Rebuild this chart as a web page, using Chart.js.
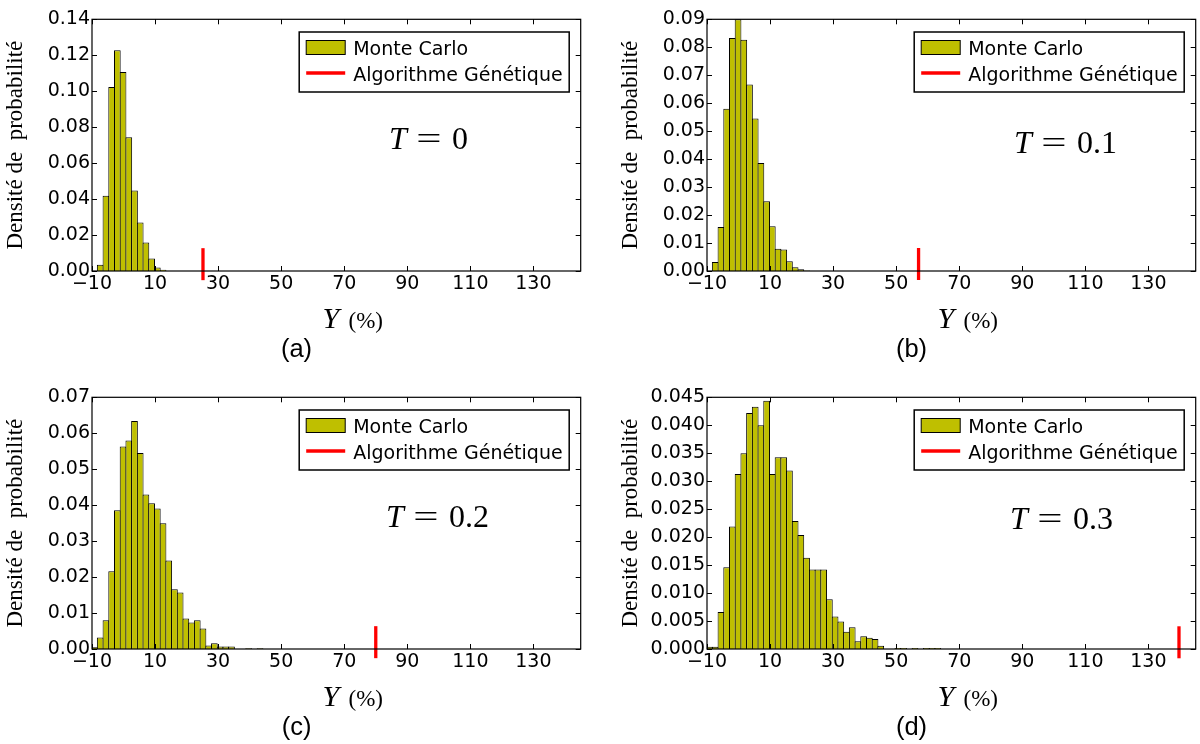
<!DOCTYPE html>
<html>
<head>
<meta charset="utf-8">
<script src="https://cdn.jsdelivr.net/npm/chart.js@4"></script>
<style>
  html, body { margin: 0; padding: 0; background: #fff; width: 1200px; height: 744px; overflow: hidden; position: relative; }
  canvas { position: absolute; }
</style>
</head>
<body>
<canvas id="chartA" width="600" height="366" style="left:0;top:0"></canvas>
<canvas id="chartB" width="600" height="366" style="left:615px;top:0"></canvas>
<canvas id="chartC" width="600" height="366" style="left:0;top:378px"></canvas>
<canvas id="chartD" width="600" height="366" style="left:615px;top:378px"></canvas>
<script>
// histogram bin centres (bin width 1.81)
const binCenters = [-9.2, -7.39, -5.58, -3.77, -1.96, -0.15, 1.67, 3.48, 5.29, 7.1,
  8.91, 10.72, 12.53, 14.34, 16.15, 17.96, 19.77, 21.58, 23.39, 25.2,
  27.01, 28.82, 30.63, 32.44, 34.25, 36.06, 37.87, 39.68, 41.49, 43.3,
  45.11, 46.92, 48.73, 50.54, 52.35, 54.16, 55.97, 57.78, 59.59, 61.4, 63.21];

// Monte Carlo densities, one list per panel
const densityA = [0, 0.0035, 0.0419, 0.1024, 0.1228, 0.1107, 0.0744, 0.0448, 0.027, 0.0159, 0.0069, 0.002, 0.0007];
const densityB = [0, 0.0032, 0.0157, 0.058, 0.0833, 0.09, 0.0827, 0.0667, 0.0545, 0.0386, 0.0249,
  0.016, 0.008, 0.0077, 0.0035, 0.0013, 0.0006, 0.0002];
const densityC = [0.0005, 0.0032, 0.008, 0.0216, 0.0386, 0.0563, 0.058, 0.0634, 0.0545, 0.043,
  0.0405, 0.0391, 0.035, 0.0246, 0.0166, 0.0157, 0.0085, 0.0074, 0.008, 0.0057,
  0.001, 0.0016, 0.0007, 0.0007, 0.0007, 0, 0, 0.0002, 0, 0.0002];
const densityD = [0.0004, 0.0004, 0.0066, 0.0146, 0.0219, 0.0313, 0.035, 0.0422, 0.0433, 0.04,
  0.0444, 0.0313, 0.0343, 0.0343, 0.0319, 0.0229, 0.0204, 0.0163, 0.0142, 0.0142,
  0.0142, 0.0089, 0.0058, 0.0049, 0.0031, 0.0039, 0.0014, 0.0023, 0.002, 0.0018,
  0.0006, 0, 0, 0.0002, 0.0002, 0, 0.0002, 0, 0.0002, 0.0002, 0.0002];

// genetic algorithm result (x) and marker centre (y)
const gaX = [25.2, 57.1, 80, 139.7];
const gaY = [0.0038, 0.0025, 0.0019, 0.0012];

const xTicks = [-10, 10, 30, 50, 70, 90, 110, 130];
const yTicksA = [0, 0.02, 0.04, 0.06, 0.08, 0.10, 0.12, 0.14];
const yTicksB = [0, 0.01, 0.02, 0.03, 0.04, 0.05, 0.06, 0.07, 0.08, 0.09];
const yTicksC = [0, 0.01, 0.02, 0.03, 0.04, 0.05, 0.06, 0.07];
const yTicksD = [0, 0.005, 0.01, 0.015, 0.02, 0.025, 0.03, 0.035, 0.04, 0.045];

const tValues = ['0', '0.1', '0.2', '0.3'];
const captions = ['(a)', '(b)', '(c)', '(d)'];

const YELLOW = 'rgb(191,191,0)';
const RED = 'rgb(255,0,0)';
const SANS = '"DejaVu Sans"';
const SERIF = '"Liberation Serif"';

const panels = [
  { id: 'chartA', density: densityA, yTicks: yTicksA, dec: 2, tx: 389, ty: 149 },
  { id: 'chartB', density: densityB, yTicks: yTicksB, dec: 2, tx: 399, ty: 153 },
  { id: 'chartC', density: densityC, yTicks: yTicksC, dec: 2, tx: 386, ty: 149 },
  { id: 'chartD', density: densityD, yTicks: yTicksD, dec: 3, tx: 395, ty: 151 }
];

function decor(i) {
  return {
    id: 'decor' + i,
    afterDatasetsDraw(chart) {
      const { ctx, chartArea: a, scales: { x, y } } = chart;
      ctx.save();
      // inward ticks on all four sides
      ctx.strokeStyle = '#000';
      ctx.lineWidth = 1;
      ctx.beginPath();
      x.ticks.forEach(t => {
        const px = Math.round(x.getPixelForValue(t.value)) + 0.5;
        ctx.moveTo(px, a.top); ctx.lineTo(px, a.top + 5);
        ctx.moveTo(px, a.bottom); ctx.lineTo(px, a.bottom - 5);
      });
      y.ticks.forEach(t => {
        const py = Math.round(y.getPixelForValue(t.value)) + 0.5;
        ctx.moveTo(a.left, py); ctx.lineTo(a.left + 5, py);
        ctx.moveTo(a.right, py); ctx.lineTo(a.right - 5, py);
      });
      ctx.stroke();
      // frame
      ctx.lineWidth = 1.2;
      ctx.strokeRect(a.left, a.top, a.right - a.left, a.bottom - a.top);
      ctx.restore();
    },
    afterDraw(chart) {
      const { ctx, chartArea: a } = chart;
      const p = panels[i];
      ctx.save();
      ctx.fillStyle = '#000';

      // y title
      ctx.save();
      ctx.translate(15.6, (a.top + a.bottom) / 2);
      ctx.rotate(-Math.PI / 2);
      ctx.font = '23px ' + SERIF;
      ctx.textAlign = 'center';
      ctx.textBaseline = 'middle';
      ctx.fillText('Densité de  probabilité', 0, 0);
      ctx.restore();

      // x title
      ctx.textAlign = 'left';
      ctx.textBaseline = 'alphabetic';
      ctx.font = 'italic 30px ' + SERIF;
      ctx.fillText('Y', 322.5, 328);
      ctx.font = '23px ' + SERIF;
      ctx.fillText('(%)', 348.5, 328);

      // caption
      ctx.font = '25.5px "Liberation Sans"';
      ctx.textAlign = 'center';
      ctx.fillText(captions[i], 296.5, 356.5);

      // T annotation
      ctx.textAlign = 'left';
      ctx.font = 'italic 32px ' + SERIF;
      ctx.fillText('T', p.tx, p.ty);
      ctx.font = '32px ' + SERIF;
      ctx.save();
      ctx.translate(p.tx + 40, p.ty);
      ctx.scale(1.4, 1);
      ctx.textAlign = 'center';
      ctx.fillText('=', 0, 0);
      ctx.restore();
      ctx.textAlign = 'left';
      ctx.fillText(tValues[i], p.tx + 63, p.ty);

      // legend
      const lx = a.right - 281.5, ly = a.top + 12.7;
      ctx.fillStyle = '#fff';
      ctx.fillRect(lx, ly, 270, 60);
      ctx.strokeStyle = '#000';
      ctx.lineWidth = 1.5;
      ctx.strokeRect(lx, ly, 270, 60);
      ctx.fillStyle = YELLOW;
      ctx.fillRect(lx + 7, ly + 8.5, 39, 14);
      ctx.lineWidth = 1;
      ctx.strokeRect(lx + 7, ly + 8.5, 39, 14);
      ctx.strokeStyle = RED;
      ctx.lineWidth = 3.3;
      ctx.beginPath();
      ctx.moveTo(lx + 7, ly + 41); ctx.lineTo(lx + 46, ly + 41);
      ctx.stroke();
      ctx.fillStyle = '#000';
      ctx.font = '19px ' + SANS;
      ctx.textAlign = 'left';
      ctx.fillText('Monte Carlo', lx + 54, ly + 23.3);
      ctx.fillText('Algorithme Génétique', lx + 54, ly + 48.5);
      ctx.restore();
    }
  };
}

panels.forEach((p, i) => {
  const ymax = p.yTicks[p.yTicks.length - 1];
  new Chart(document.getElementById(p.id), {
    type: 'bar',
    data: {
      datasets: [{
        type: 'bar',
        label: 'Monte Carlo',
        data: p.density.map((v, k) => ({ x: binCenters[k], y: v })),
        backgroundColor: YELLOW,
        borderColor: '#000',
        borderWidth: { top: 1, left: 1, right: 1, bottom: 0 },
        borderSkipped: false,
        barPercentage: 1.175,
        categoryPercentage: 1,
        grouped: false
      }, {
        type: 'scatter',
        label: 'Algorithme Génétique',
        data: [{ x: gaX[i], y: gaY[i] }],
        pointStyle: 'line',
        rotation: 90,
        radius: 16,
        hoverRadius: 16,
        borderWidth: 3.3,
        borderColor: RED,
        backgroundColor: RED,
        clip: false
      }]
    },
    options: {
      responsive: false,
      devicePixelRatio: 1,
      animation: false,
      layout: { padding: { left: 0, top: 18, right: 17, bottom: 0 } },
      plugins: {
        legend: { display: false },
        tooltip: { enabled: false }
      },
      scales: {
        x: {
          type: 'linear',
          min: -10,
          max: 145,
          offset: false,
          afterBuildTicks: s => { s.ticks = xTicks.map(v => ({ value: v })); },
          afterFit: s => { s.height = 95; s.paddingLeft = 0; s.paddingRight = 0; },
          grid: { display: false, drawTicks: false },
          border: { display: false },
          ticks: {
            padding: 2,
            color: '#000',
            autoSkip: false,
            maxRotation: 0,
            font: { family: 'DejaVu Sans', size: 19 },
            callback: v => v < 0 ? '\u2212' + Math.abs(v) : String(v)
          }
        },
        y: {
          type: 'linear',
          min: 0,
          max: ymax,
          afterBuildTicks: s => { s.ticks = p.yTicks.map(v => ({ value: v })); },
          afterFit: s => { s.width = 92; s.paddingTop = 0; s.paddingBottom = 0; },
          grid: { display: false, drawTicks: false },
          border: { display: false },
          ticks: {
            padding: 2,
            color: '#000',
            autoSkip: false,
            font: { family: 'DejaVu Sans', size: 19 },
            callback: v => Number(v).toFixed(p.dec)
          }
        }
      }
    },
    plugins: [decor(i)]
  });
});
</script>
</body>
</html>
